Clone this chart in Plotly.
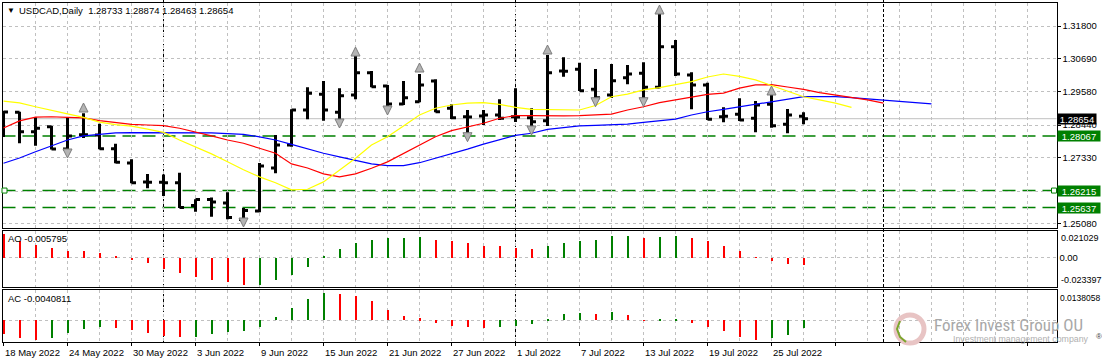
import plotly.graph_objects as go

W, H = 1102, 363

# ---------------- data ----------------
tick_dates = ["18 May 2022", "24 May 2022", "30 May 2022", "3 Jun 2022", "9 Jun 2022",
              "15 Jun 2022", "21 Jun 2022", "27 Jun 2022", "1 Jul 2022", "7 Jul 2022",
              "13 Jul 2022", "19 Jul 2022", "25 Jul 2022"]
tick_bar = [0, 4, 8, 12, 16, 20, 24, 28, 32, 36, 40, 44, 48]
month_sep_bar = [10, 32, 55]

open_ = [1.28609, 1.28871, 1.28212, 1.28382, 1.27625, 1.28110, 1.28100, 1.27632, 1.27150, 1.26505,
         1.26495, 1.26481, 1.25707, 1.25911, 1.25792, 1.25232, 1.25520, 1.26980, 1.27761, 1.28949,
         1.29482, 1.28871, 1.29458, 1.30215, 1.29763, 1.29152, 1.29230, 1.29933, 1.29006, 1.28721,
         1.28745, 1.28779, 1.28721, 1.28687, 1.28585, 1.30273, 1.30330, 1.29651, 1.29458, 1.30045,
         1.30194, 1.29719, 1.31097, 1.30137, 1.29797, 1.28721, 1.28803, 1.28667, 1.29142, 1.28463,
         1.28733]
high = [1.28915, 1.28891, 1.28701, 1.28406, 1.28701, 1.28837, 1.28480, 1.27805, 1.27275, 1.26776,
        1.26759, 1.26820, 1.25917, 1.25979, 1.26155, 1.25622, 1.27150, 1.28100, 1.28972, 1.29719,
        1.29933, 1.29685, 1.30782, 1.30273, 1.29797, 1.29933, 1.30171, 1.29991, 1.29142, 1.28949,
        1.28949, 1.29312, 1.29685, 1.29006, 1.30816, 1.30738, 1.30554, 1.30340, 1.30510, 1.30476,
        1.30568, 1.32207, 1.31325, 1.30228, 1.29875, 1.29040, 1.29346, 1.29254, 1.29458, 1.28983,
        1.28874]
low = [1.28032, 1.27818, 1.27737, 1.27608, 1.27591, 1.27998, 1.27618, 1.27140, 1.26461, 1.26291,
       1.26030, 1.25620, 1.25497, 1.25327, 1.25242, 1.25157, 1.25480, 1.26800, 1.27703, 1.28633,
       1.28585, 1.28570, 1.29312, 1.29719, 1.29040, 1.29118, 1.29210, 1.28871, 1.28643, 1.28134,
       1.28440, 1.28609, 1.28541, 1.28361, 1.28406, 1.30079, 1.29594, 1.29346, 1.29360, 1.29821,
       1.29322, 1.29685, 1.30103, 1.28972, 1.28609, 1.28531, 1.28575, 1.28192, 1.28348, 1.28158,
       1.28463]
close = [1.28881, 1.28212, 1.28328, 1.27625, 1.28066, 1.28105, 1.27632, 1.27173, 1.26481, 1.26500,
         1.26481, 1.25640, 1.25911, 1.25826, 1.25300, 1.25537, 1.27048, 1.27761, 1.28949, 1.29516,
         1.28949, 1.29434, 1.30215, 1.29740, 1.29152, 1.29366, 1.29797, 1.28891, 1.28687, 1.28715,
         1.28779, 1.28667, 1.28715, 1.28552, 1.30215, 1.30265, 1.29604, 1.29366, 1.29943, 1.30171,
         1.29719, 1.31097, 1.30171, 1.29797, 1.28633, 1.28735, 1.28609, 1.29118, 1.28416, 1.28779,
         1.28654]

# Alligator (jaw shifted 8, teeth shifted 5, lips shifted 3)
jaw = [1.2714, 1.2732, 1.2753, 1.2773, 1.2793, 1.2807, 1.2813, 1.2817, 1.2818, 1.2818,
       1.2818, 1.2818, 1.2818, 1.2817, 1.2815, 1.2812, 1.2804, 1.2793, 1.2778, 1.2762,
       1.2748, 1.2736, 1.2725, 1.2712, 1.2706, 1.2706, 1.2716, 1.2731, 1.2748, 1.2762,
       1.2779, 1.2795, 1.2809, 1.2816, 1.2829, 1.2835, 1.2841, 1.2843, 1.2844, 1.2847,
       1.2853, 1.2859, 1.2864, 1.2878, 1.2889, 1.2897, 1.2906, 1.2914, 1.2923, 1.2931,
       1.2940, 1.2940, 1.2940, 1.2937, 1.2933, 1.2929, 1.2926, 1.2922, 1.2916]
teeth = [1.2834, 1.2858, 1.2871, 1.2872, 1.2870, 1.2868, 1.2859, 1.2852, 1.2846, 1.2844,
         1.2842, 1.2833, 1.2821, 1.2807, 1.2793, 1.2782, 1.2765, 1.2748, 1.2712, 1.2698,
         1.2678, 1.2668, 1.2678, 1.2697, 1.2719, 1.2748, 1.2776, 1.2804, 1.2825, 1.2838,
         1.2850, 1.2867, 1.2876, 1.2876, 1.2875, 1.2875, 1.2876, 1.2879, 1.2881, 1.2895,
         1.2906, 1.2920, 1.2929, 1.2940, 1.2948, 1.2952, 1.2969, 1.2980, 1.2981, 1.2973,
         1.2965, 1.2954, 1.2946, 1.2937, 1.2929, 1.2918]
lips = [1.2925, 1.2919, 1.2906, 1.2895, 1.2882, 1.2870, 1.2854, 1.2845, 1.2840, 1.2830,
        1.2819, 1.2793, 1.2769, 1.2746, 1.2719, 1.2692, 1.2668, 1.2648, 1.2624, 1.2626,
        1.2651, 1.2691, 1.2731, 1.2776, 1.2804, 1.2841, 1.2878, 1.2901, 1.2912, 1.2918,
        1.2920, 1.2914, 1.2904, 1.2897, 1.2897, 1.2897, 1.2895, 1.2910, 1.2940, 1.2949,
        1.2963, 1.2971, 1.2980, 1.2991, 1.3007, 1.3017, 1.3009, 1.2997, 1.2978, 1.2959,
        1.2940, 1.2929, 1.2918, 1.2904]

fractal_up_bar = [5, 22, 26, 34, 41, 48]
fractal_up_price = [1.29186, 1.31087, 1.30544, 1.31155, 1.32513, 1.29764]
fractal_dn_bar = [4, 15, 21, 24, 29, 33, 37, 40]
fractal_dn_price = [1.27320, 1.24978, 1.28338, 1.28779, 1.27873, 1.28101, 1.29061, 1.29061]

ao = [0.021029, 0.0150, 0.0116, 0.0084, 0.0064, 0.0056, 0.0047, 0.0021, -0.0013, -0.0044,
      -0.0093, -0.0130, -0.0165, -0.0193, -0.0208, -0.023397, -0.0230, -0.0193, -0.0142, -0.0073,
      0.0021, 0.0079, 0.0130, 0.0159, 0.0170, 0.0172, 0.0178, 0.0159, 0.0142, 0.0125,
      0.0107, 0.0099, 0.0090, 0.0079, 0.0107, 0.0133, 0.0150, 0.0159, 0.0185, 0.0193,
      0.0176, 0.0184, 0.0186, 0.0168, 0.0142, 0.0107, 0.0056, 0.0007, -0.0027, -0.0050,
      -0.005795]
ac = [-0.0072, -0.0092, -0.0101, -0.0089, -0.0063, -0.0044, -0.0032, -0.0037, -0.0049, -0.0063,
      -0.0078, -0.0085, -0.0083, -0.0072, -0.0058, -0.0053, -0.0032, 0.0017, 0.0065, 0.0109,
      0.0138058, 0.0136, 0.0124, 0.0099, 0.0053, 0.0022, 0.0010, -0.0012, -0.0027, -0.0032,
      -0.0041, -0.0032, -0.0027, -0.0020, 0.0007, 0.0032, 0.0039, 0.0032, 0.0040, 0.0027,
      -0.0002, 0.0002, 0.0004, -0.0012, -0.0032, -0.0055, -0.0084, -0.0101, -0.0092, -0.0075,
      -0.0040811]

level_lines = [1.28067, 1.26215, 1.25637]
bid = close[-1]
price_ticks = [1.31800, 1.30690, 1.29580, 1.28440, 1.27330, 1.26200, 1.25080]
price_tick_text = ["1.31800", "1.30690", "1.29580", "1.28440", "1.27330", "", "1.25080"]

# ---------------- layout helpers ----------------
def py(px):
    return 1 - px / H

def pxx(px):
    return px / W

FONT = "Liberation Sans, Arial, sans-serif"
FS = 9.5
RED, GREEN = "#ff0000", "#008000"
GRID = "#c0c0c0"

xd = [pxx(2.5), pxx(1056.5)]
xr = [-0.0625, -0.0625 + 1054 / 16]
dom_main = [py(227.5), py(2.5)]
dom_ao = [py(286.5), py(230.5)]
dom_ac = [py(341.5), py(290)]

idx = list(range(len(close)))

def bar_colors(v):
    return [GREEN if i > 0 and v[i] > v[i - 1] else RED for i in range(len(v))]

fig = go.Figure()
fig.add_trace(go.Ohlc(x=idx, open=open_, high=high, low=low, close=close,
                      increasing=dict(line=dict(color="black", width=3)),
                      decreasing=dict(line=dict(color="black", width=3)),
                      tickwidth=0.28, showlegend=False, hoverinfo="skip",
                      xaxis="x", yaxis="y"))
for series, col in [(jaw, "#0000ff"), (teeth, "#ff0000"), (lips, "#ffff00")]:
    fig.add_trace(go.Scatter(x=list(range(len(series))), y=series, mode="lines",
                             line=dict(color=col, width=1.2), showlegend=False,
                             hoverinfo="skip", xaxis="x", yaxis="y"))
fig.add_trace(go.Scatter(x=fractal_up_bar, y=fractal_up_price, mode="markers",
                         marker=dict(symbol="arrow-up", size=9, color="#b4b4b4",
                                     line=dict(color="#7c7c7c", width=1)),
                         showlegend=False, hoverinfo="skip", xaxis="x", yaxis="y"))
fig.add_trace(go.Scatter(x=fractal_dn_bar, y=fractal_dn_price, mode="markers",
                         marker=dict(symbol="arrow-down", size=9, color="#b4b4b4",
                                     line=dict(color="#7c7c7c", width=1)),
                         showlegend=False, hoverinfo="skip", xaxis="x", yaxis="y"))
fig.add_trace(go.Bar(x=idx, y=ao, marker=dict(color=bar_colors(ao), line=dict(width=0)),
                     width=0.18, showlegend=False, hoverinfo="skip", xaxis="x2", yaxis="y2"))
fig.add_trace(go.Bar(x=idx, y=ac, marker=dict(color=bar_colors(ac), line=dict(width=0)),
                     width=0.18, showlegend=False, hoverinfo="skip", xaxis="x3", yaxis="y3"))

xcommon = dict(range=xr, domain=xd, showline=True, mirror=True, linecolor="black", linewidth=1,
               showgrid=True, gridcolor=GRID, griddash="3px,3px", gridwidth=1,
               tickmode="linear", tick0=0, dtick=4, showticklabels=False, ticks="",
               zeroline=False, automargin=False, fixedrange=True,
               minor=dict(tick0=0, dtick=2, showgrid=True, gridcolor=GRID, griddash="3px,3px",
                          gridwidth=1, ticks=""))
ycommon = dict(side="right", showline=True, mirror=True, linecolor="black", linewidth=1,
               showgrid=True, gridcolor=GRID, griddash="3px,3px", gridwidth=1,
               zeroline=False, automargin=False, fixedrange=True,
               tickfont=dict(family=FONT, size=FS, color="black"))

ao_rng = [-0.02491, 0.02320]
ac_rng = [-0.01084, 0.01549]

fig.update_layout(
    template="none",
    width=W, height=H, autosize=False,
    margin=dict(l=0, r=0, t=0, b=0, pad=0),
    paper_bgcolor="white", plot_bgcolor="white",
    font=dict(family=FONT, size=FS, color="black"),
    bargap=0, showlegend=False,
    xaxis=dict(xcommon, anchor="y", rangeslider=dict(visible=False)),
    xaxis2=dict(xcommon, anchor="y2", matches="x"),
    xaxis3=dict(xcommon, anchor="y3", matches="x", ticks="outside", ticklen=3,
                tickcolor="black", tickwidth=1),
    yaxis=dict(ycommon, anchor="x", domain=dom_main, range=[1.24961, 1.32598],
               tickmode="array", tickvals=price_ticks, ticktext=price_tick_text,
               ticks="outside", ticklen=3, tickcolor="black"),
    yaxis2=dict(ycommon, anchor="x2", domain=dom_ao, range=ao_rng,
                tickmode="array", tickvals=[0], ticktext=["0.00"], ticks=""),
    yaxis3=dict(ycommon, anchor="x3", domain=dom_ac, range=ac_rng,
                tickmode="array", tickvals=[0], ticktext=[""], ticks=""),
)

shapes = []
# bid line
shapes.append(dict(type="line", xref="paper", x0=xd[0], x1=xd[1], yref="y", y0=bid, y1=bid,
                   line=dict(color="#c0c0c0", width=1), layer="below"))
for lv in level_lines:
    shapes.append(dict(type="line", xref="paper", x0=xd[0], x1=xd[1], yref="y", y0=lv, y1=lv,
                       line=dict(color=GREEN, width=1.5, dash="13px,7px"), layer="below"))
# small squares on the 1.26215 line
for xa in [pxx(4.5), pxx(1054)]:
    shapes.append(dict(type="rect", xref="paper", xsizemode="pixel", xanchor=xa, x0=-2.5, x1=2.5,
                       yref="y", ysizemode="pixel", yanchor=level_lines[1], y0=-2.5, y1=2.5,
                       line=dict(color=GREEN, width=1), fillcolor="white", layer="above"))
# period separators
for b in month_sep_bar:
    shapes.append(dict(type="line", xref="x", x0=b, x1=b, yref="paper", y0=py(342), y1=1,
                       line=dict(color="black", width=1, dash="3px,2px"), layer="below"))
# watermark logo
shapes.append(dict(type="circle", xref="paper", yref="paper",
                   x0=pxx(896), x1=pxx(924), y0=py(343), y1=py(315),
                   line=dict(color="#e8c4c4", width=5), layer="above"))
shapes.append(dict(type="path", xref="paper", yref="paper",
                   path=f"M {pxx(900)},{py(321)} L {pxx(897)},{py(329)} L {pxx(900)},{py(337)} L {pxx(906)},{py(342)}",
                   line=dict(color="#7aa62a", width=2), layer="above"))
fig.update_layout(shapes=shapes)

ann = []
# header
ann.append(dict(xref="paper", yref="paper", x=pxx(5), y=py(10), xanchor="left", yanchor="middle",
                text="▼", showarrow=False, font=dict(family=FONT, size=8, color="black")))
ann.append(dict(xref="paper", yref="paper", x=pxx(17), y=py(10.5), xanchor="left", yanchor="middle",
                text=f"USDCAD,Daily  {open_[-1]:.5f} {high[-1]:.5f} {low[-1]:.5f} {close[-1]:.5f}",
                showarrow=False, font=dict(family=FONT, size=FS, color="black")))
ann.append(dict(xref="paper", yref="paper", x=pxx(6), y=py(238), xanchor="left", yanchor="middle",
                text=f"AO {ao[-1]:.6f}", showarrow=False, font=dict(family=FONT, size=FS)))
ann.append(dict(xref="paper", yref="paper", x=pxx(6), y=py(298), xanchor="left", yanchor="middle",
                text=f"AC {ac[-1]:.7f}", showarrow=False, font=dict(family=FONT, size=FS)))
# indicator scale labels
lab_x = pxx(1058.5)
FS2 = 9
ann.append(dict(xref="paper", yref="y2", x=lab_x, y=max(ao), yshift=-4.5, xanchor="left",
                yanchor="middle", text=f"{max(ao):.6f}", showarrow=False, font=dict(family=FONT, size=FS2)))
ann.append(dict(xref="paper", yref="y2", x=lab_x, y=min(ao), yshift=4.5, xanchor="left",
                yanchor="middle", text=f"{min(ao):.6f}", showarrow=False, font=dict(family=FONT, size=FS2)))
ann.append(dict(xref="paper", yref="y3", x=pxx(1058), y=max(ac), yshift=-4.5, xanchor="left",
                yanchor="middle", text=f"{max(ac):.7f}", showarrow=False, font=dict(family=FONT, size=8.5)))
# price boxes
ann.append(dict(xref="paper", yref="y", x=pxx(1057), y=bid, xanchor="left", yanchor="middle",
                text=f"{bid:.5f}", showarrow=False, bgcolor="black", width=38, height=10,
                borderpad=0, font=dict(family=FONT, size=FS, color="white")))
for lv in level_lines:
    ann.append(dict(xref="paper", yref="y", x=pxx(1057), y=lv, xanchor="left", yanchor="middle",
                    text=f"{lv:.5f}", showarrow=False, bgcolor=GREEN, width=42, height=10,
                    borderpad=0, font=dict(family=FONT, size=FS, color="white")))
# date labels
for b, t in zip(tick_bar, tick_dates):
    ann.append(dict(xref="x3", yref="paper", x=b, y=py(352), xanchor="left", yanchor="middle",
                    xshift=-0.5, text=t, showarrow=False, font=dict(family=FONT, size=FS)))
# watermark text
ann.append(dict(xref="paper", yref="paper", x=pxx(932), y=py(325), xanchor="left", yanchor="middle",
                text="Forex Invest Group OU", showarrow=False,
                font=dict(family="Liberation Sans Narrow, Roboto Condensed, Roboto, sans-serif",
                          size=17, color="#a8a8a8")))
ann.append(dict(xref="paper", yref="paper", x=pxx(951), y=py(338.5), xanchor="left", yanchor="middle",
                text="Investment management company", showarrow=False,
                font=dict(family=FONT, size=8.8, color="#b0b0b0")))
ann.append(dict(xref="paper", yref="paper", x=pxx(1094), y=py(336), xanchor="left", yanchor="middle",
                text="®", showarrow=False, font=dict(family=FONT, size=8, color="#404040")))
fig.update_layout(annotations=ann)

fig.write_html("out.html", config={"displayModeBar": False},
               post_script="document.body.style.margin='0';document.body.style.padding='0';"
                           "document.documentElement.style.margin='0';")
